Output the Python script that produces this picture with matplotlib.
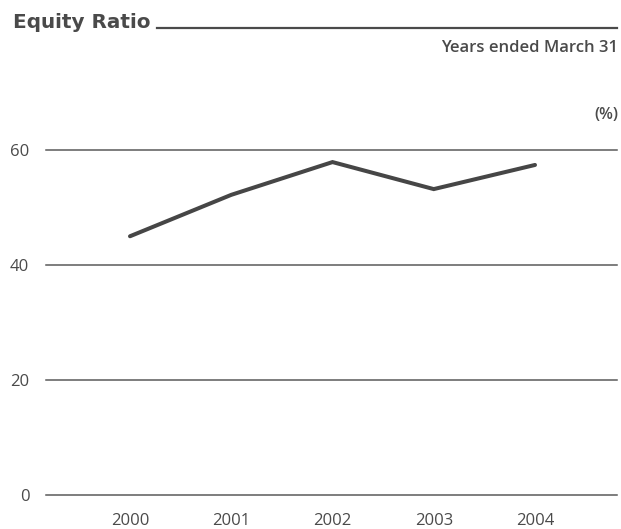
import matplotlib
matplotlib.use('Agg')
import matplotlib.pyplot as plt

# Equity ratio by fiscal year (%)
years = [2000, 2001, 2002, 2003, 2004]
equity_ratio = [45.0, 52.2, 57.9, 53.2, 57.4]
y_ticks = [0, 20, 40, 60]

text_color = '#4a4a4a'
line_color = '#464646'
grid_color = '#5a5a5a'

fig = plt.figure(figsize=(6.21, 5.29), dpi=100)
W, H = 621, 529

# axes placed in pixel terms: x from 46 to 617, y=0 at 495, 5.75 px per %
left, right = 46, 617
y0_px, y_top = 495, 65
px_per_unit = 5.75
top_px = y0_px - y_top * px_per_unit
ax = fig.add_axes([left / W, (H - y0_px) / H, (right - left) / W, (y0_px - top_px) / H])

ax.set_ylim(0, y_top)
x_per_px = 1 / 101.25
ax.set_xlim(2000 - (130 - left) * x_per_px, 2004 + (right - 535) * x_per_px)

for v in y_ticks:
    ax.axhline(v, color=grid_color, lw=1.1, zorder=1, clip_on=False)

ax.plot(years, equity_ratio, color=line_color, lw=2.9, solid_capstyle='round',
        solid_joinstyle='miter', zorder=3)

for s in ax.spines.values():
    s.set_visible(False)
ax.set_yticks(y_ticks)
ax.set_yticklabels([str(v) for v in y_ticks])
ax.set_xticks(years)
ax.set_xticklabels([str(y) for y in years])
ax.tick_params(length=0, colors=text_color, labelsize=12)
ax.tick_params(axis='y', pad=12)
ax.tick_params(axis='x', pad=13)
for lbl in ax.get_xticklabels() + ax.get_yticklabels():
    lbl.set_fontfamily('Open Sans')

# header: title with rule, period note and unit
fig.text(13 / W, 1 - 22.5 / H, 'Equity Ratio', fontsize=14.4, fontweight='bold',
         family='DejaVu Sans', color=text_color, ha='left', va='center')
fig.add_artist(plt.Line2D([157 / W, 617 / W], [1 - 28 / H, 1 - 28 / H],
                          color=text_color, lw=1.6))
fig.text(618 / W, 1 - 48.5 / H, 'Years ended March 31', fontsize=12,
         fontweight='semibold', family='Open Sans', color=text_color,
         ha='right', va='center')
fig.text(618 / W, 1 - 115 / H, '(%)', fontsize=11.5, fontweight='semibold',
         family='Open Sans', color=text_color, ha='right', va='center')

fig.savefig('out.png', dpi=100)
